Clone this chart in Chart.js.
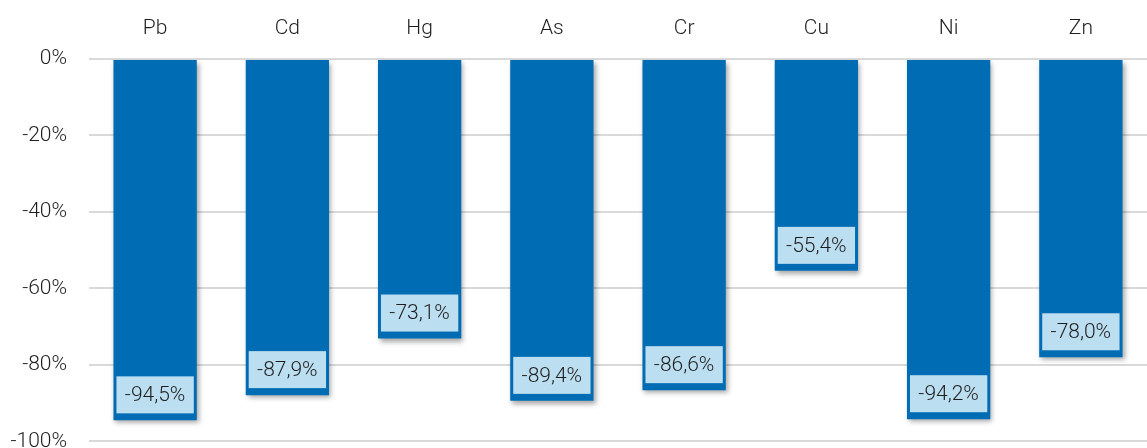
<!DOCTYPE html>
<html>
<head>
<meta charset="utf-8">
<script src="https://cdn.jsdelivr.net/npm/chart.js@4/dist/chart.umd.min.js"></script>
<style>
  html, body { margin: 0; padding: 0; background: #fff; overflow: hidden; }
  #wrap { width: 1147px; height: 476px; }
</style>
</head>
<body>
<div id="wrap"><canvas id="c"></canvas></div>
<script>
// metals and their change (%)
const METALS = ['Pb', 'Cd', 'Hg', 'As', 'Cr', 'Cu', 'Ni', 'Zn'];
const CHANGE = [-94.5, -87.9, -73.1, -89.4, -86.6, -55.4, -94.2, -78.0];
const Y_TICKS = [0, -20, -40, -60, -80, -100];

const FONT = "'Roboto', sans-serif";
const BAR = '#006cb4';
const BOX = '#bcdef1';
const TEXT = '#1e1e1e';

const fmt = v => v.toFixed(1).replace('.', ',') + '%';

// soft shadow under the bars
const barShadow = {
  id: 'barShadow',
  beforeDatasetsDraw(chart) {
    const ctx = chart.ctx;
    ctx.save();
    ctx.shadowColor = 'rgba(0,0,0,0.35)';
    ctx.shadowBlur = 5;
    ctx.shadowOffsetX = 2;
    ctx.shadowOffsetY = 3;
  },
  afterDatasetsDraw(chart) {
    chart.ctx.restore();
  },
};

// value labels in light boxes near the bar ends
const valueBoxes = {
  id: 'valueBoxes',
  afterDatasetsDraw(chart) {
    const ctx = chart.ctx;
    const meta = chart.getDatasetMeta(0);
    ctx.save();
    ctx.font = `300 21px ${FONT}`;
    ctx.textAlign = 'center';
    ctx.textBaseline = 'middle';
    meta.data.forEach((bar, i) => {
      const w = bar.width - 6;
      const h = 37;
      const bottom = bar.y - 7;
      ctx.fillStyle = BOX;
      ctx.fillRect(bar.x - w / 2, bottom - h, w, h);
      ctx.fillStyle = TEXT;
      ctx.fillText(fmt(CHANGE[i]), bar.x, bottom - h / 2 + 1);
    });
    ctx.restore();
  },
};

new Chart(document.getElementById('c'), {
  type: 'bar',
  data: {
    labels: METALS,
    datasets: [{
      data: CHANGE,
      backgroundColor: BAR,
      borderWidth: 0,
      barPercentage: 0.63,
      categoryPercentage: 1,
    }],
  },
  options: {
    responsive: true,
    maintainAspectRatio: false,
    animation: false,
    layout: { padding: 0 },
    plugins: { legend: { display: false }, tooltip: { enabled: false } },
    scales: {
      x: {
        position: 'top',
        grid: { display: false, drawTicks: false },
        border: { display: false },
        ticks: { color: TEXT, font: { family: FONT, size: 21, weight: '300' }, padding: 18 },
        afterFit: s => { s.height = 59; },
      },
      y: {
        min: -100,
        max: 0,
        afterBuildTicks: s => { s.ticks = Y_TICKS.map(v => ({ value: v })); },
        grid: { color: '#d9d9d9', lineWidth: 2, drawTicks: false },
        border: { display: false },
        ticks: {
          color: TEXT,
          font: { family: FONT, size: 21, weight: '300' },
          padding: 22,
          callback: v => v + '%',
        },
        afterFit: s => { s.width = 89; },
      },
    },
  },
  plugins: [barShadow, valueBoxes],
});
</script>
</body>
</html>
